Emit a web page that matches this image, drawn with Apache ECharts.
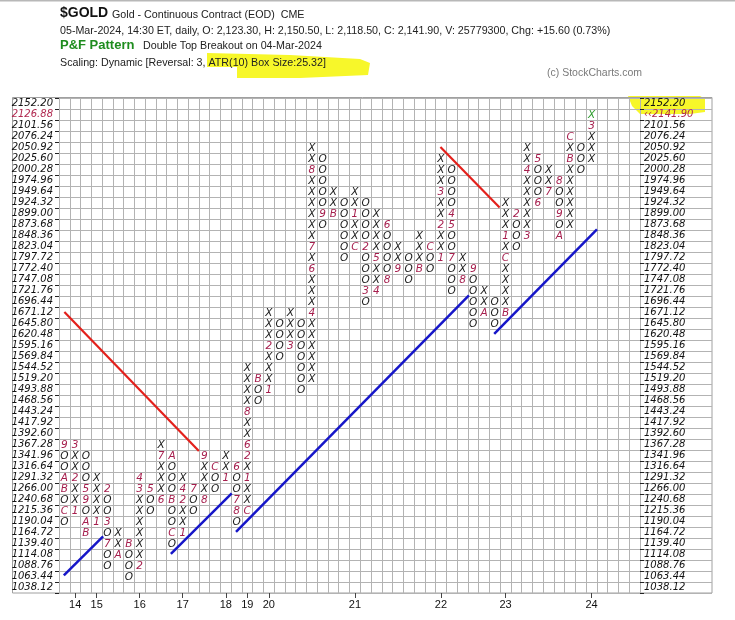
<!DOCTYPE html>
<html><head><meta charset="utf-8">
<script src="https://cdn.jsdelivr.net/npm/echarts@6/dist/echarts.min.js"></script>
<style>html,body{margin:0;padding:0;background:#fff}#c{width:735px;height:620px}</style>
</head><body><div id="c"></div>
<script>
// ---- data ----
const priceLabels = ['1038.12','1063.44','1088.76','1114.08','1139.40','1164.72','1190.04','1215.36','1240.68','1266.00',
  '1291.32','1316.64','1341.96','1367.28','1392.60','1417.92','1443.24','1468.56','1493.88','1519.20',
  '1544.52','1569.84','1595.16','1620.48','1645.80','1671.12','1696.44','1721.76','1747.08','1772.40',
  '1797.72','1823.04','1848.36','1873.68','1899.00','1924.32','1949.64','1974.96','2000.28','2025.60',
  '2050.92','2076.24','2101.56','2126.88','2152.20'];
const lastPriceLabel = '\u2039\u20392141.90';
const lastPriceRow = 43;
// bottom box row of each column, and the boxes from bottom to top (X, O, or month code 1-9,A,B,C)
const colBottom = [6,7,5,6,2,3,1,2,7,8,4,5,7,8,9,10,6,7,17,18,21,22,18,19,33,34,30,31,26,27,28,29,28,29,29,30,27,28,24,25,24,25,31,32,35,36,32,33,38,39];
const colBoxes = ['OCOBAOO9','1XX2XX3','BAO95OOO','1XXXX','OO7O3OO2','AXX','OOOB','2XXXXXX34','OO5','6XXX7X',
  'OCOOBOOOA','1XX24X','OO7','8XXX9','OOC','1XX','O87OO6','CXX1X26XX8XXXX','OOB','1XXX2XXX',
  'OOOO','3XXX','OOOOOOO','XXXXXX4XXX6X7XXXXXX8XX','O9OOOOO','BXX','OOOOOO','CXX1XX','O3OOO2OOOO','4XX5XXXX',
  '8OOOO6','9XX','OOO','BXXX','OOC','1XX2XX3XXX','OOO7OO54OOOO','8XX','OOOOO9','AXX',
  'OOO','BXXXXCX1XXX','OOO2','3XXXXX4XX','6OOO5','7XX','AO9OO8','XXXXXXBXC','OOO','XXX3X'];
const totalCols = 54;
const yearLabels = ['14','15','16','17','18','19','20','21','22','23','24'];
const yearCols = [1,3,7,11,15,17,19,27,35,41,49];
// trend lines in box units [col, row]
const redLines = [[[0.5,25.55],[13.0,12.9]], [[35.45,40.55],[40.95,35.05]]];
const blueLines = [[[0.45,1.6],[4.1,5.15]], [[10.4,3.55],[16.05,9.05]], [[16.45,5.55],[38.1,27.05]], [[40.45,23.55],[50.0,33.05]]];

// ---- build ----
const marks = [];
colBoxes.forEach((s, c) => {
  for (let j = 0; j < s.length; j++) {
    const isLast = (c === colBoxes.length - 1 && j === s.length - 1);
    marks.push({x: c + 0.5, y: colBottom[c] + j + 0.5, ch: s[j], last: isLast});
  }
});
const colNames = [];
for (let i = 0; i < totalCols; i++) {
  const k = yearCols.indexOf(i);
  colNames.push(k >= 0 ? yearLabels[k] : '');
}
const rightLabels = priceLabels.map((p, i) => i === lastPriceRow ? lastPriceLabel : p);

const GRID = '#b3b3b3';
const MONTH = '#a61e4d';
const labelFont = {fontFamily: 'DejaVu Sans', fontStyle: 'italic', fontSize: 10, color: '#111'};

const chart = echarts.init(document.getElementById('c'), null, {renderer: 'canvas'});
const series = [];
series.push({
  type: 'custom', xAxisIndex: 0, yAxisIndex: 0, silent: true, z: 5,
  data: marks.map(m => [m.x, m.y]),
  renderItem: (params, api) => {
    const m = marks[params.dataIndex];
    const p = api.coord([api.value(0), api.value(1)]);
    const isXO = (m.ch === 'X' || m.ch === 'O');
    return {
      type: 'text', x: p[0], y: p[1] + 0.5,
      style: {text: m.ch, align: 'center', verticalAlign: 'middle', textAlign: 'center', textVerticalAlign: 'middle',
        font: 'oblique 10.5px "DejaVu Sans"', fill: m.last ? '#2f9e2f' : (isXO ? '#1a1a1a' : MONTH)}
    };
  }
});
redLines.forEach(l => series.push({type: 'line', xAxisIndex: 0, yAxisIndex: 0, data: l, symbol: 'none', silent: true, z: 4,
  lineStyle: {color: '#e3201b', width: 2.2}}));
blueLines.forEach(l => series.push({type: 'line', xAxisIndex: 0, yAxisIndex: 0, data: l, symbol: 'none', silent: true, z: 4,
  lineStyle: {color: '#1616c8', width: 2.5}}));

const txt = (x, y, text, font, fill, extra) => Object.assign({
  type: 'text', x: x, y: y, z: 10,
  style: {text: text, font: font, fill: fill, align: 'left', verticalAlign: 'middle', textAlign: 'left', textVerticalAlign: 'middle'}
}, extra || {});

const option = {
  animation: false,
  backgroundColor: '#fff',
  grid: [
    {left: 59, top: 98, width: 581, height: 495, containLabel: false},
    {left: 640, top: 98, width: 72, height: 495, containLabel: false}
  ],
  xAxis: [
    {type: 'value', gridIndex: 0, min: 0, max: totalCols, interval: 1, axisLine: {show: false}, axisTick: {show: false},
      axisLabel: {show: false}, splitLine: {show: true, lineStyle: {color: GRID, width: 1}}},
    {type: 'category', gridIndex: 0, position: 'bottom', data: colNames, axisLine: {show: false},
      axisTick: {show: true, alignWithLabel: true, length: 5, interval: (i) => yearCols.indexOf(i) >= 0, lineStyle: {color: '#444'}},
      axisLabel: {interval: (i) => yearCols.indexOf(i) >= 0, margin: 6, fontFamily: 'Liberation Sans', fontSize: 11, color: '#111'},
      splitLine: {show: false}},
    {type: 'value', gridIndex: 1, min: 0, max: 1, show: false}
  ],
  yAxis: [
    {type: 'value', gridIndex: 0, min: 0, max: priceLabels.length, interval: 1, axisLine: {show: false}, axisTick: {show: false},
      axisLabel: {show: false}, splitLine: {show: true, lineStyle: {color: GRID, width: 1}}},
    {type: 'category', gridIndex: 0, position: 'left', data: priceLabels, axisLine: {show: false},
      axisTick: {show: true, length: 4, lineStyle: {color: '#222'}},
      axisLabel: Object.assign({interval: 0, margin: 6,
        formatter: (v, i) => i === lastPriceRow ? '{r|' + v + '}' : v,
        rich: {r: {fontFamily: 'DejaVu Sans', fontStyle: 'italic', fontSize: 10, color: '#b0284f'}}}, labelFont),
      splitLine: {show: false}},
    {type: 'category', gridIndex: 0, position: 'right', data: rightLabels, axisLine: {show: false},
      axisTick: {show: true, length: 4, lineStyle: {color: '#222'}},
      axisLabel: Object.assign({interval: 0, margin: 4,
        formatter: (v, i) => i === lastPriceRow ? '{r|' + v + '}' : v,
        rich: {r: {fontFamily: 'DejaVu Sans', fontStyle: 'italic', fontSize: 10, color: '#b0284f'}}}, labelFont),
      splitLine: {show: false}},
    {type: 'value', gridIndex: 1, min: 0, max: priceLabels.length, interval: 1, axisLine: {show: false}, axisTick: {show: false},
      axisLabel: {show: false}, splitLine: {show: true, lineStyle: {color: GRID, width: 1}}}
  ],
  graphic: [
    {type: 'polygon', z: -5, shape: {points: [[207,53],[290,55],[360,59],[370,63],[368,75],[300,78],[237,78],[237,67],[207,67]]},
      style: {fill: '#f7f72a'}},
    {type: 'polygon', z: -5, shape: {points: [[628,96],[700,96],[705,99],[705,112],[690,114],[640,114],[632,106]]},
      style: {fill: '#f7f72a'}},
    {type: 'line', z: -4, shape: {x1: 0, y1: 0.8, x2: 735, y2: 0.8}, style: {stroke: '#b8b8b8', lineWidth: 1.6}},
    {type: 'rect', z: -4, shape: {x: 12.5, y: 97.5, width: 699.5, height: 495.5}, style: {fill: 'none', stroke: '#a0a0a0', lineWidth: 1}},
    txt(60, 13.5, '$GOLD', 'bold 14px "Liberation Sans"', '#111'),
    txt(112, 15, 'Gold - Continuous Contract (EOD)  CME', '10.7px "Liberation Sans"', '#222'),
    txt(60, 31, '05-Mar-2024, 14:30 ET, daily, O: 2,123.30, H: 2,150.50, L: 2,118.50, C: 2,141.90, V: 25779300, Chg: +15.60 (0.73%)', '10.7px "Liberation Sans"', '#222'),
    txt(60, 45.5, 'P&F Pattern', 'bold 13px "Liberation Sans"', '#1e8c1e'),
    txt(143, 46, 'Double Top Breakout on 04-Mar-2024', '10.7px "Liberation Sans"', '#222'),
    txt(60, 63, 'Scaling: Dynamic [Reversal: 3, ATR(10) Box Size:25.32]', '10.7px "Liberation Sans"', '#222'),
    txt(547, 73, '(c) StockCharts.com', '10.5px "Liberation Sans"', '#7a7a7a')
  ],
  series: series
};
chart.setOption(option);
</script>
</body></html>
